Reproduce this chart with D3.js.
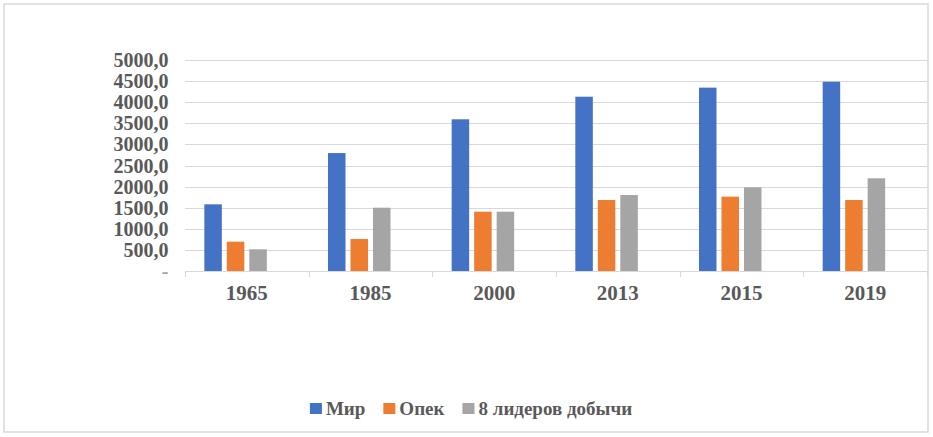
<!DOCTYPE html>
<html>
<head>
<meta charset="utf-8">
<script src="https://cdn.jsdelivr.net/npm/d3@7"></script>
<style>
  html, body { margin: 0; padding: 0; background: #fff; }
  svg { display: block; }
</style>
</head>
<body>
<svg id="chart" width="933" height="437"></svg>
<script>
const years = ["1965", "1985", "2000", "2013", "2015", "2019"];
const seriesNames = ["Мир", "Опек", "8 лидеров добычи"];
const mir   = [1580, 2795, 3595, 4130, 4345, 4485];
const opec  = [695, 758, 1405, 1682, 1762, 1682];
const lead8 = [514, 1500, 1405, 1800, 1983, 2197];
const seriesValues = [mir, opec, lead8];
const colors = ["#4472C4", "#ED7D31", "#A5A5A5"];
const yTicks = [0, 500, 1000, 1500, 2000, 2500, 3000, 3500, 4000, 4500, 5000];

const svg = d3.select("#chart");
const W = 933, H = 437;
const plot = { left: 185, right: 927, top: 60, bottom: 271 };
const font = "'Liberation Serif', 'Times New Roman', serif";
const textColor = "#595959";

svg.append("rect").attr("x", 0).attr("y", 0).attr("width", W).attr("height", H).attr("fill", "#fff");
svg.append("rect").attr("x", 4).attr("y", 4).attr("width", 924).attr("height", 428)
  .attr("fill", "#fff").attr("stroke", "#d9d9d9").attr("stroke-width", 1.5);

const y = d3.scaleLinear().domain([0, 5000]).range([plot.bottom, plot.top]);
const x0 = d3.scaleBand().domain(years).range([plot.left, plot.right]).padding(0);
const x1 = d3.scaleBand().domain(seriesNames).range([0, x0.bandwidth()])
  .paddingInner(0.222).paddingOuter(1.36).align(0.316);

// gridlines
svg.append("g").selectAll("line").data(yTicks.filter(d => d > 0)).join("line")
  .attr("x1", plot.left).attr("x2", plot.right)
  .attr("y1", d => Math.round(y(d)) + 0.5).attr("y2", d => Math.round(y(d)) + 0.5)
  .attr("stroke", "#d9d9d9").attr("stroke-width", 1.2);

// y axis labels
const fmt = d => d === 0 ? "-" : d3.format(".1f")(d).replace(".", ",");
svg.append("g").selectAll("text").data(yTicks).join("text")
  .attr("x", 168.5).attr("y", d => y(d)).attr("dy", "0.35em")
  .attr("text-anchor", "end")
  .attr("font-family", font).attr("font-weight", "bold").attr("font-size", 20)
  .attr("fill", d => d === 0 ? "#a6a6a6" : textColor)
  .text(fmt);

// bars
const groups = svg.append("g").selectAll("g").data(years).join("g")
  .attr("transform", d => `translate(${x0(d)},0)`);
groups.selectAll("rect")
  .data((yr, i) => seriesNames.map((s, j) => ({ s, j, v: seriesValues[j][i] })))
  .join("rect")
  .attr("x", d => x1(d.s)).attr("width", x1.bandwidth())
  .attr("y", d => y(d.v)).attr("height", d => y(0) - y(d.v))
  .attr("fill", d => colors[d.j]);

// x axis line and ticks
svg.append("line").attr("x1", plot.left).attr("x2", plot.right)
  .attr("y1", plot.bottom + 0.5).attr("y2", plot.bottom + 0.5)
  .attr("stroke", "#d9d9d9").attr("stroke-width", 1.2);
const boundaries = years.map(d => x0(d)).concat([plot.right]);
svg.append("g").selectAll("line").data(boundaries).join("line")
  .attr("x1", d => Math.round(d) + 0.5).attr("x2", d => Math.round(d) + 0.5)
  .attr("y1", plot.bottom).attr("y2", plot.bottom + 6)
  .attr("stroke", "#d9d9d9").attr("stroke-width", 1);

// x labels
svg.append("g").selectAll("text").data(years).join("text")
  .attr("x", d => x0(d) + x0.bandwidth() / 2).attr("y", 300)
  .attr("text-anchor", "middle")
  .attr("font-family", font).attr("font-weight", "bold").attr("font-size", 21)
  .attr("fill", textColor)
  .text(d => d);

// legend
const legend = svg.append("g");
const items = legend.selectAll("g").data(seriesNames).join("g");
items.append("rect").attr("width", 12).attr("height", 11).attr("y", 403)
  .attr("fill", (d, i) => colors[i]);
items.append("text").attr("x", 16).attr("y", 415)
  .attr("font-family", font).attr("font-weight", "bold").attr("font-size", 19)
  .attr("fill", textColor).text(d => d);
let widths = [];
items.each(function () { widths.push(this.querySelector("text").getComputedTextLength() + 16); });
const gap = 18;
const total = d3.sum(widths) + gap * (widths.length - 1);
let cx = 471 - total / 2;
items.attr("transform", (d, i) => {
  const t = `translate(${cx},0)`;
  cx += widths[i] + gap;
  return t;
});
</script>
</body>
</html>
